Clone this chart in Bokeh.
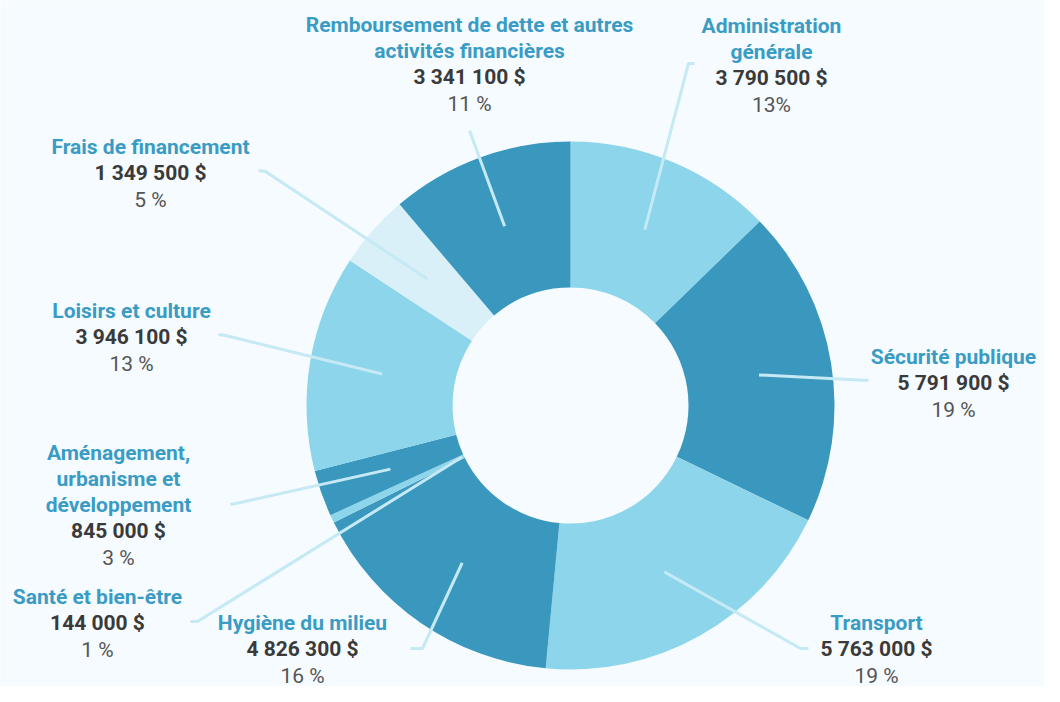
import math
from bokeh.plotting import figure
from bokeh.models import Range1d, ColumnDataSource
from bokeh.core.properties import value
from bokeh.embed import file_html
from bokeh.resources import INLINE

# ---- data ----
categories = [
    "Administration\ngénérale",
    "Sécurité publique",
    "Transport",
    "Hygiène du milieu",
    "Santé et bien-être",
    "Aménagement,\nurbanisme et\ndéveloppement",
    "Loisirs et culture",
    "Frais de financement",
    "Remboursement de dette et autres\nactivités financières",
]
amounts = [3790500, 5791900, 5763000, 4826300, 144000, 845000, 3946100, 1349500, 3341100]
pct_labels = ["13%", "19 %", "19 %", "16 %", "1 %", "3 %", "13 %", "5 %", "11 %"]

# ---- style / layout ----
W, H = 1044, 686
BG = "#f5fbfe"
LIGHT, DARK, PALE = "#8dd5ea", "#3a98be", "#daf0f8"
slice_colors = [LIGHT, DARK, LIGHT, DARK, LIGHT, DARK, LIGHT, PALE, DARK]
TITLE_C, VALUE_C, PCT_C, LINE_C = "#3a9cc4", "#3a3a3a", "#555555", "#c5e9f5"
FONT = value("Roboto")
FS = "21px"


def Y(s):  # screen y -> data y
    return H - s


cx, cy = 570, Y(405)
r_in, r_out = 118, 264
r_mid = (r_in + r_out) / 2

# label anchor (centre x, screen y of first line), leader start radius, leader path (screen)
label_pos = [(771, 25), (953, 356), (876, 622), (302, 622), (97, 596),
             (118, 452), (131, 310), (150, 146), (469, 24)]
lead_r = [r_mid, r_mid, r_mid, r_mid, r_in + 2, r_mid, r_mid, r_mid, r_mid]
lead_path = [
    [(688, 63), (694, 63)],
    [(868, 380)],
    [(800, 648), (808, 648)],
    [(422, 648), (410, 648)],
    [(197, 621), (190, 621)],
    [(240, 502), (230, 504)],
    [(225, 335), (218, 334)],
    [(265, 171), (258, 170)],
    [(469, 130)],
]
LS = 26  # line spacing

total = sum(amounts)
starts, ends, mids = [], [], []
acc = 0
for a in amounts:
    f0 = acc / total
    acc += a
    f1 = acc / total
    starts.append(math.pi / 2 - f0 * 2 * math.pi)
    ends.append(math.pi / 2 - f1 * 2 * math.pi)
    mids.append(math.pi / 2 - (f0 + f1) / 2 * 2 * math.pi)

p = figure(width=W, height=H, output_backend="svg", toolbar_location=None,
           x_range=Range1d(0, W), y_range=Range1d(0, H),
           min_border=0, background_fill_color=BG, border_fill_color=BG)
p.outline_line_color = None
p.axis.visible = False
p.grid.visible = False

src = ColumnDataSource(dict(x=[cx] * len(amounts), y=[cy] * len(amounts),
                            s=starts, e=ends, c=slice_colors))
p.annular_wedge(x="x", y="y", inner_radius=r_in, outer_radius=r_out,
                start_angle="s", end_angle="e", direction="clock",
                fill_color="c", line_color=None, source=src)

# leader lines
xs, ys = [], []
for i, m in enumerate(mids):
    x0 = cx + lead_r[i] * math.cos(m)
    y0 = cy + lead_r[i] * math.sin(m)
    lx = [x0] + [pt[0] for pt in lead_path[i]]
    ly = [y0] + [Y(pt[1]) for pt in lead_path[i]]
    xs.append(lx)
    ys.append(ly)
p.multi_line(xs=xs, ys=ys, line_color=LINE_C, line_width=3)

# labels
tx, ty, tt = [], [], []
vx, vy, vt = [], [], []
px, py, pt_ = [], [], []
for i, cat in enumerate(categories):
    lines = cat.split("\n")
    x, y0 = label_pos[i]
    for k, ln in enumerate(lines):
        tx.append(x); ty.append(Y(y0 + k * LS)); tt.append(ln)
    n = len(lines)
    vx.append(x); vy.append(Y(y0 + n * LS))
    vt.append(f"{amounts[i]:,}".replace(",", " ") + " $")
    px.append(x); py.append(Y(y0 + (n + 1) * LS + 1)); pt_.append(pct_labels[i])

common = dict(text_align="center", text_baseline="middle", text_font=FONT,
              text_font_size=FS)
p.text(x=tx, y=ty, text=tt, text_color=TITLE_C, text_font_style="bold", **common)
p.text(x=vx, y=vy, text=vt, text_color=VALUE_C, text_font_style="bold", **common)
p.text(x=px, y=py, text=pt_, text_color=PCT_C, **common)

open("out.html", "w").write(file_html(p, INLINE))
